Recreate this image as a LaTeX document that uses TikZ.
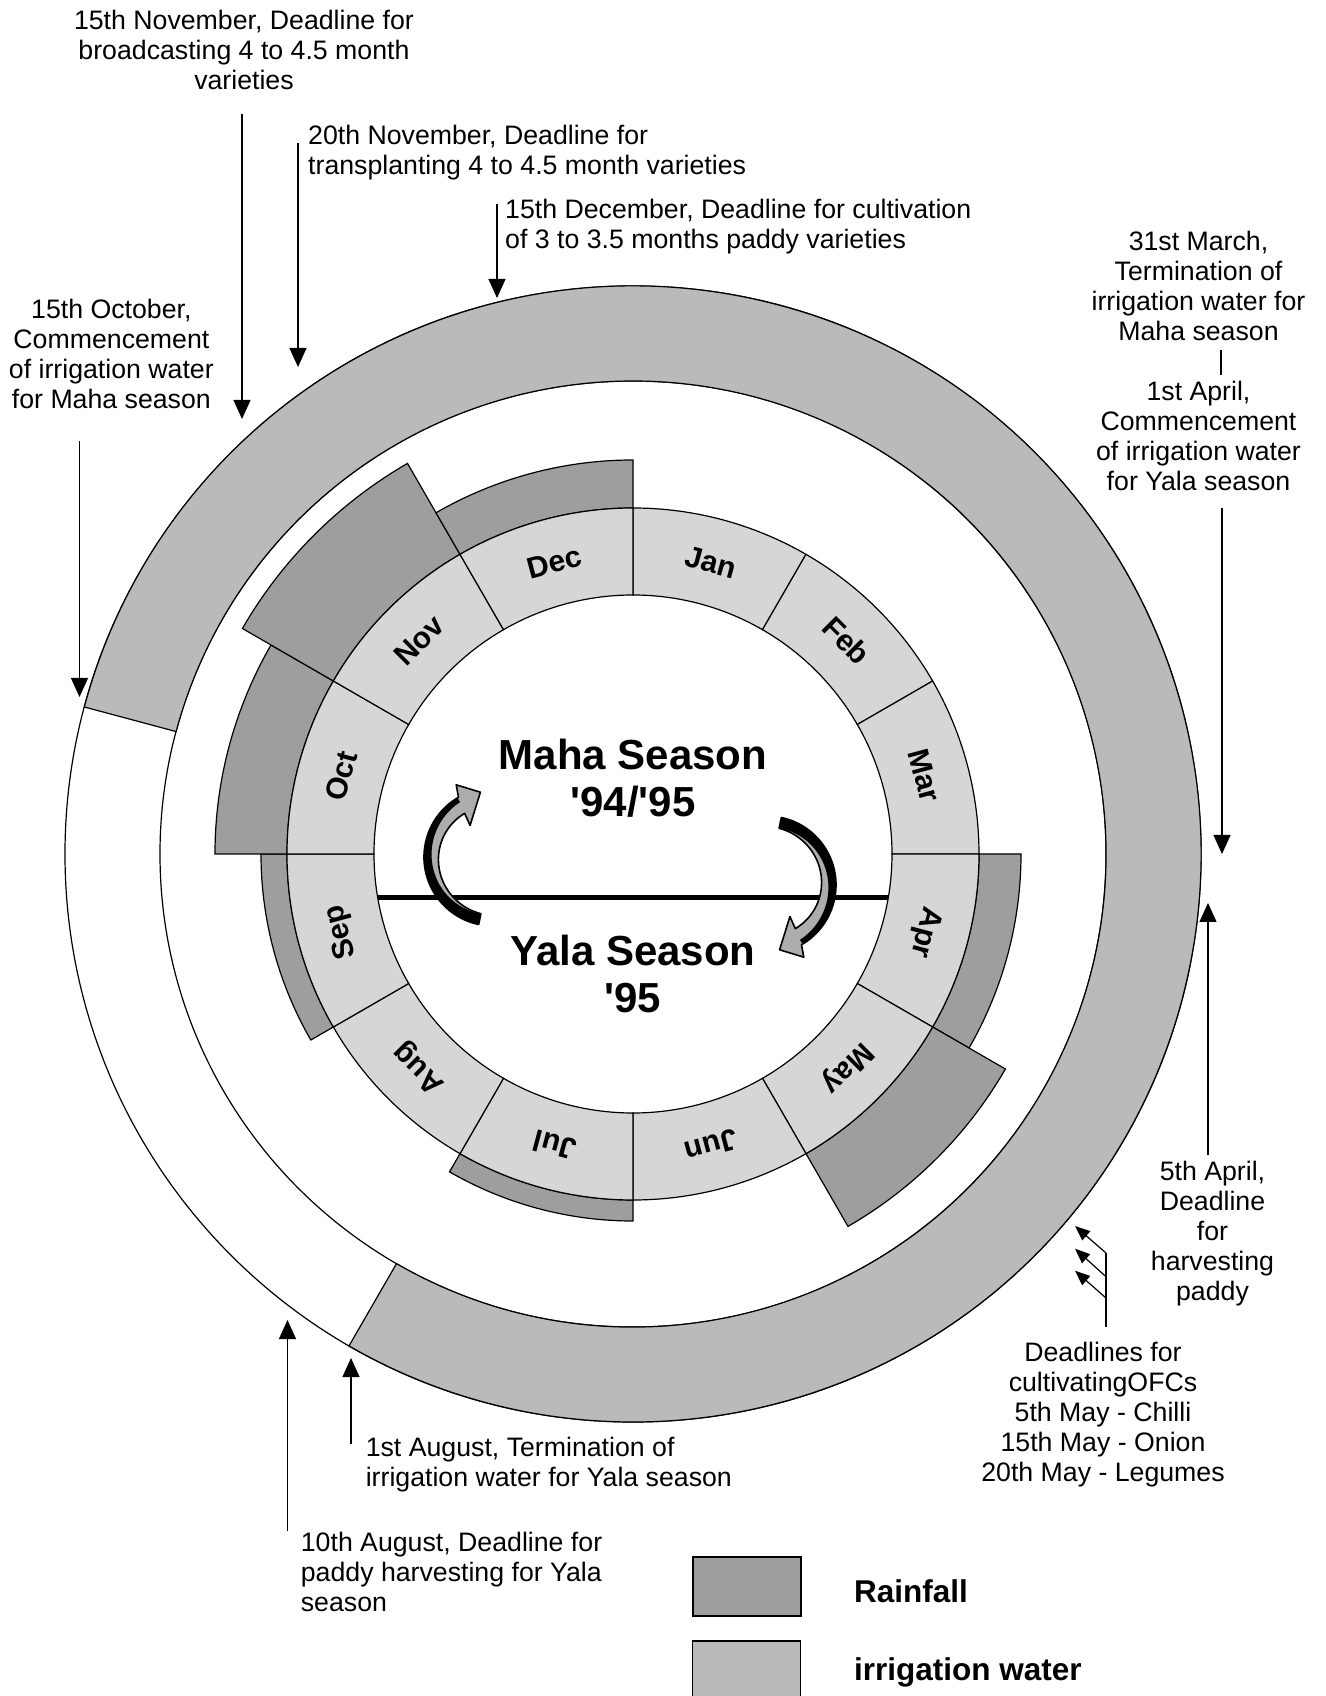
\documentclass[tikz,border=0pt]{standalone}
\usepackage{fontspec}
\setmainfont{Liberation Sans}
\usetikzlibrary{arrows.meta}

\definecolor{rainfill}{gray}{0.62}
\definecolor{irrfill}{gray}{0.73}
\definecolor{monthfill}{gray}{0.84}
\definecolor{turnfill}{gray}{0.68}

\begin{document}
\begin{tikzpicture}[x=1pt,y=1pt,
  note/.style={font=\fontsize{26.7}{30}\selectfont, inner sep=0pt, align=center},
  noteleft/.style={note, align=left, anchor=west},
  pointer/.style={line width=1.2pt, -{Triangle[width=17pt,length=19pt]}},
  smallpointer/.style={line width=1.2pt, -{Triangle[width=12pt,length=15pt]}},
  month/.style={font=\bfseries\fontsize{30}{32}\selectfont, inner sep=0pt},
  title/.style={font=\bfseries\fontsize{42}{47}\selectfont, align=center, inner sep=0pt},
  legendtxt/.style={font=\bfseries\fontsize{31.5}{34}\selectfont, inner sep=0pt, anchor=base west},
  legendbox/.style={draw, line width=1.2pt, minimum width=108pt, minimum height=59pt, inner sep=0pt},
  ringline/.style={line width=1.2pt},
  turn/.pic={
    % gray ribbon with its head, tapering towards the tail
    \fill[turnfill]
      (258:69) arc[start angle=258, end angle=120, radius=69]
      -- (117:81) -- (101:66) -- (126:39) -- (123:52)
      -- plot[domain=123:258, samples=40] (\x:{52+6*(\x-123)/135}) -- cycle;
    % dark outer side of the ribbon, filling it at the tail
    \fill[black] plot[domain=258:121, samples=40] (\x:69)
      -- plot[domain=121:258, samples=40] (\x:{64-6*(\x-121)/137}) -- cycle;
    \draw[line width=1.6pt, line join=round]
      (258:69) arc[start angle=258, end angle=120, radius=69]
      -- (117:81) -- (101:66) -- (126:39) -- (123:52)
      -- plot[domain=123:258, samples=40] (\x:{52+6*(\x-123)/135}) -- cycle;
  },
]
\useasboundingbox (-633,-842) rectangle (692,854);
\fill[white] (-633,-842) rectangle (692,854);

% outer irrigation track
\draw[ringline] (0,0) circle[radius=568];
\draw[ringline] (0,0) circle[radius=473];
\filldraw[ringline, fill=irrfill]
  (165:568) arc[start angle=165, end angle=-120, radius=568]
  -- (-120:473) arc[start angle=-120, end angle=165, radius=473] -- cycle;

% monthly rainfall bars
\foreach \a/\b/\r in {180/210/372, 150/180/418, 120/150/451, 90/120/394,
                      -30/0/388, -60/-30/430, 240/270/367} {
  \filldraw[ringline, fill=rainfill]
    (\a:346) -- (\a:\r) arc[start angle=\a, end angle=\b, radius=\r]
    -- (\b:346) arc[start angle=\b, end angle=\a, radius=346] -- cycle;
}

% month ring
\foreach \m [count=\i from 0] in {Jan,Feb,Mar,Apr,May,Jun,Jul,Aug,Sep,Oct,Nov,Dec} {
  \pgfmathsetmacro\s{90-30*\i}
  \pgfmathsetmacro\e{60-30*\i}
  \pgfmathsetmacro\c{75-30*\i}
  \filldraw[ringline, fill=monthfill]
    (\s:259) -- (\s:346) arc[start angle=\s, end angle=\e, radius=346]
    -- (\e:259) arc[start angle=\e, end angle=\s, radius=259] -- cycle;
  \node[month, rotate=\c-90] (m\m) at (\c:302) {\m};
}

% season divider and titles
\coordinate (divL) at (-255.3,-43.6);
\coordinate (divR) at (255.3,-43.6);
\draw[line width=5pt] (divL) -- (divR);
\node[title] (maha) at (0,76) {Maha Season\\\textquotesingle94/\textquotesingle95};
\node[title] (yala) at (0,-119.5) {Yala Season\\\textquotesingle95};

% turning arrows
\pic at (-140,-3) {turn};
\pic[rotate=180] at (134,-31) {turn};

% annotations
\node[note] (t1) at (-389,804) {15th November, Deadline for\\broadcasting 4 to 4.5 month\\varieties};
\coordinate (a1s) at (-391,740); \coordinate (a1e) at (-391,435);
\draw[pointer] (a1s) -- (a1e);

\node[noteleft] (t2) at (-325,701) {20th November, Deadline for\\transplanting 4 to 4.5 month varieties};
\coordinate (a2s) at (-335,711); \coordinate (a2e) at (-335,487);
\draw[pointer] (a2s) -- (a2e);

\node[noteleft] (t3) at (-128,627) {15th December, Deadline for cultivation\\of 3 to 3.5 months paddy varieties};
\coordinate (a3s) at (-136,650); \coordinate (a3e) at (-136,556);
\draw[pointer] (a3s) -- (a3e);

\node[note] (t4) at (-521.6,500.5) {15th October,\\Commencement\\of irrigation water\\for Maha season};
\coordinate (a4s) at (-553.5,413); \coordinate (a4e) at (-553.5,157);
\draw[pointer] (a4s) -- (a4e);

\node[note] (t5) at (565.5,568) {31st March,\\Termination of\\irrigation water for\\Maha season};
\coordinate (sepT) at (588,504); \coordinate (sepB) at (588,479);
\draw[ringline] (sepT) -- (sepB);
\node[note] (t6) at (565.5,418) {1st April,\\Commencement\\of irrigation water\\for Yala season};
\coordinate (a5s) at (589,346); \coordinate (a5e) at (589,0);
\draw[pointer] (a5s) -- (a5e);

\node[note] (t7) at (579.5,-380) {5th April,\\Deadline\\for\\harvesting\\paddy};
\coordinate (a6s) at (575,-301); \coordinate (a6e) at (575,-49);
\draw[pointer] (a6s) -- (a6e);

\node[note] (t8) at (470,-561) {Deadlines for\\cultivatingOFCs\\5th May - Chilli\\15th May - Onion\\20th May - Legumes};
\coordinate (ofcA) at (473,-399); \coordinate (ofcB) at (473,-422.7);
\coordinate (ofcC) at (473,-444); \coordinate (ofcD) at (473,-473);
\coordinate (ofcA2) at (442,-372); \coordinate (ofcB2) at (442,-394.7);
\coordinate (ofcC2) at (442,-416.7);
\draw[ringline] (ofcD) -- (ofcA);
\draw[smallpointer] (ofcA) -- (ofcA2);
\draw[smallpointer] (ofcB) -- (ofcB2);
\draw[smallpointer] (ofcC) -- (ofcC2);

\node[noteleft] (t9) at (-267.4,-611) {1st August, Termination of\\irrigation water for Yala season};
\coordinate (a7s) at (-282,-590); \coordinate (a7e) at (-282,-504);
\draw[pointer] (a7s) -- (a7e);

\node[noteleft] (t10) at (-332.3,-717.6) {10th August, Deadline for\\paddy harvesting for Yala\\season};
\coordinate (a8s) at (-345.5,-677); \coordinate (a8e) at (-345.5,-466);
\draw[pointer] (a8s) -- (a8e);

% legend
\node[legendbox, fill=rainfill] (legRain) at (114,-732.5) {};
\node[legendbox, fill=irrfill] (legIrr) at (113.5,-816.5) {};
\node[legendtxt] (legRainTxt) at (221,-748) {Rainfall};
\node[legendtxt] (legIrrTxt) at (221,-826) {irrigation water};
\end{tikzpicture}
\end{document}
